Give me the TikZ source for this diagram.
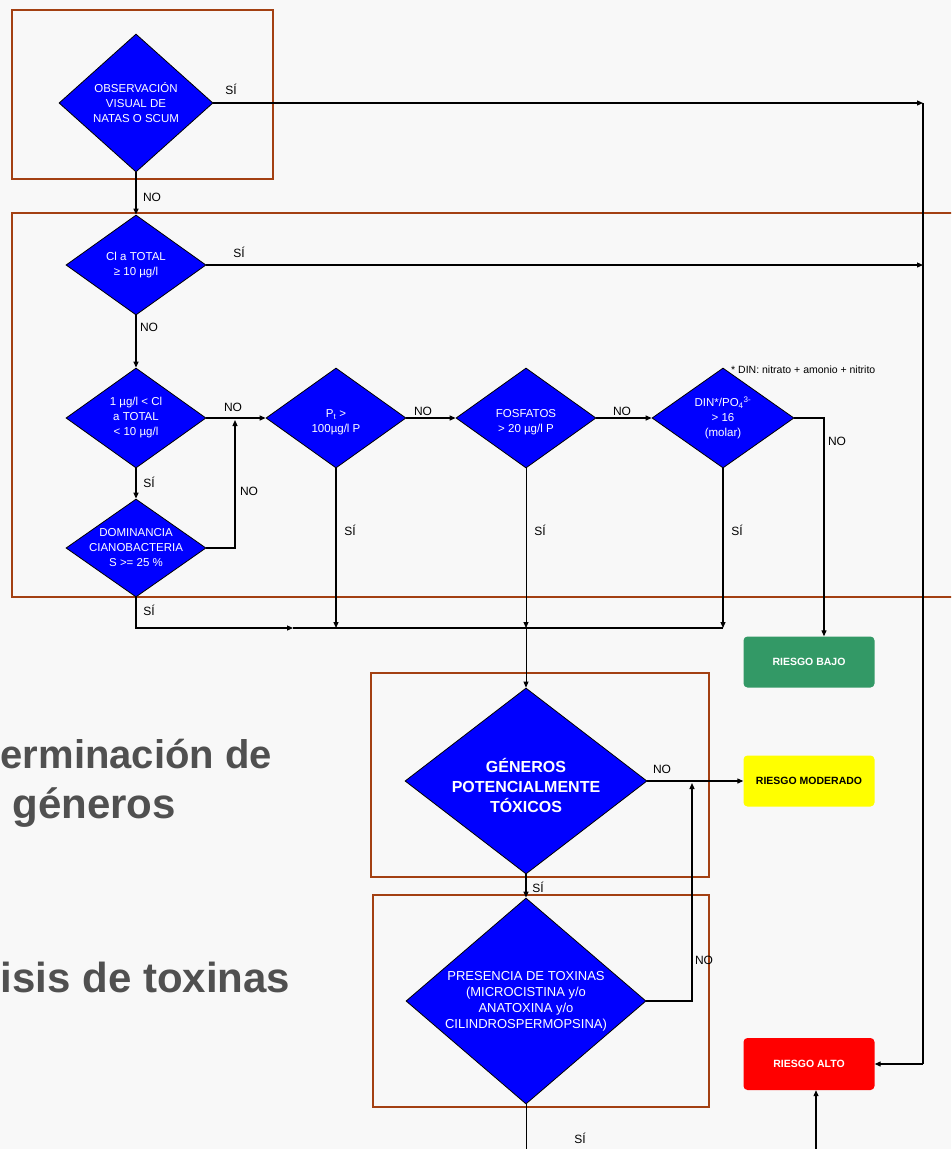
\documentclass[tikz,border=0pt]{standalone}
\usepackage{fontspec}
\setmainfont{Liberation Sans}
\usetikzlibrary{shapes.geometric,arrows.meta}
\definecolor{bg}{RGB}{248,248,248}
\definecolor{frame}{RGB}{163,64,18}
\definecolor{dblue}{RGB}{0,0,255}
\definecolor{rgreen}{RGB}{51,153,102}
\definecolor{ryellow}{RGB}{255,255,0}
\definecolor{rred}{RGB}{255,0,0}
\definecolor{gtext}{RGB}{80,80,80}
\begin{document}
\begin{tikzpicture}[x=1pt,y=-1pt,
  dia/.style={diamond, draw=black, line width=0.8pt, fill=dblue, inner sep=0pt},
  dtext/.style={text=white, align=center, font=\fontsize{11.5}{15}\selectfont, inner sep=0pt},
  lbl/.style={font=\fontsize{12}{14}\selectfont, inner sep=0pt},
  arr/.style={-{Triangle[length=6pt,width=5pt]}, line width=1.2pt},
  conn/.style={line width=1.2pt},
  thin/.style={line width=0.8pt},
  frm/.style={draw=frame, line width=2.5pt},
  risk/.style={rounded corners=4pt, minimum width=131pt, minimum height=51pt, inner sep=0pt, font=\fontsize{10.5}{12}\selectfont\bfseries},
  big/.style={text=gtext, font=\fontsize{42}{46}\selectfont\bfseries, inner sep=0pt}
]
\useasboundingbox (0,0) rectangle (951,1149);
\fill[bg] (0,0) rectangle (951,1149);
\clip (0,0) rectangle (951,1149);

% left texts
\node[big, font=\fontsize{40}{44}\selectfont\bfseries, anchor=base west] (t1) at (0.5,768) {erminación de};
\node[big, anchor=base east] (t2) at (176,818) {géneros};
\node[big, anchor=base west] (t3) at (0.5,992) {isis de toxinas};

% frames
\draw[frm] (12,10) rectangle (273,179);
\draw[frm] (12,213) rectangle (965,597);
\draw[frm] (371,673) rectangle (709,877);
\draw[frm] (373,895) rectangle (709,1107);

% diamonds
\node[dia, minimum width=154pt, minimum height=138pt] (d1) at (136,103) {};
\node[dtext] (d1t) at (d1) {OBSERVACIÓN\\VISUAL DE\\NATAS O SCUM};
\node[dia, minimum width=140pt, minimum height=100pt] (d2) at (136,265) {};
\node[dtext] (d2t) at (d2) {Cl a TOTAL\\≥ 10 µg/l};
\node[dia, minimum width=140pt, minimum height=100pt] (d3) at (136,418) {};
\node[dtext] (d3t) at (d3) {1 µg/l < Cl\\a TOTAL\\< 10 µg/l};
\node[dia, minimum width=140pt, minimum height=98pt] (d4) at (136,548) {};
\node[dtext] (d4t) at (d4) {DOMINANCIA\\CIANOBACTERIA\\S >= 25 \%};
\node[dia, minimum width=140pt, minimum height=100pt] (p) at (336,418) {};
\node[dtext] (pt) at ([yshift=-4pt]p.center) {P\textsubscript{t} >\\100µg/l P};
\node[dia, minimum width=140pt, minimum height=100pt] (f) at (526,418) {};
\node[dtext] (ft) at ([yshift=-4pt]f.center) {FOSFATOS\\> 20 µg/l P};
\node[dia, minimum width=142pt, minimum height=100pt] (din) at (723,418) {};
\node[dtext] (dint) at (din) {DIN*/PO\textsubscript{4}\textsuperscript{3-}\\> 16\\(molar)};
\node[dia, minimum width=242pt, minimum height=186pt] (g) at (526,781) {};
\node[dtext, font=\fontsize{16}{20}\selectfont\bfseries] (gt) at ([yshift=-4pt]g.center) {GÉNEROS\\POTENCIALMENTE\\TÓXICOS};
\node[dia, minimum width=240pt, minimum height=206pt] (pr) at (526,1001) {};
\node[dtext, font=\fontsize{13}{16}\selectfont] (prt) at (pr) {PRESENCIA DE TOXINAS\\(MICROCISTINA y/o\\ANATOXINA y/o\\CILINDROSPERMOPSINA)};

\node[anchor=west, inner sep=0pt, font=\fontsize{10.5}{12}\selectfont] (note) at (731,370) {* DIN: nitrato + amonio + nitrito};

% risk boxes
\node[risk, fill=rgreen, text=white] (bajo) at (809,662) {RIESGO BAJO};
\node[risk, fill=ryellow, text=black] (mod) at (809,781) {RIESGO MODERADO};
\node[risk, fill=rred, text=white, minimum height=52pt] (alto) at (809,1064) {RIESGO ALTO};

% coordinates
\coordinate (R1) at (923,103);
\coordinate (R2) at (923,265);
\coordinate (R3) at (923,1064);
\coordinate (J1) at (235,420);
\coordinate (C0) at (136,628);
\coordinate (C1) at (293,628);
\coordinate (C2) at (723,628);
\coordinate (K1) at (824,418);
\coordinate (L1) at (692,1001);
\coordinate (L2) at (692,783);
\coordinate (B1) at (816,1149);
\coordinate (B2) at (526,1149);

% connectors
\draw[arr] (d1.south) -- (d2.north);
\draw[arr] (d1.east) -- (R1);
\draw[arr] (d2.east) -- (R2);
\draw[conn] (R1) -- (R3);
\draw[arr] (R3) -- (alto.east);
\draw[arr] (d2.south) -- (d3.north);
\draw[arr] (d3.south) -- (d4.north);
\draw[arr] (d3.east) -- (p.west);
\draw[arr] (d4.east) -| (J1);
\draw[arr] (p.east) -- (f.west);
\draw[arr] (f.east) -- (din.west);
\draw[arr] (din.east) -- (K1) -- (K1 |- bajo.north);
\draw[arr] (d4.south) -- (C0) -- (C1);
\draw[conn] (C1) -- (C2);
\draw[arr] (p.south) -- (p.south |- C0);
\draw[arr, line width=0.8pt] (f.south) -- (f.south |- C0);
\draw[arr, line width=0.8pt] (f.south |- C0) -- (g.north);
\draw[arr] (din.south) -- (C2);
\draw[arr] (g.east) -- (mod.west);
\draw[arr] (g.south) -- (pr.north);
\draw[arr] (pr.east) -- (L1) -- (L2);
\draw[thin] (pr.south) -- (B2);
\draw[arr] (B1) -- (B1 |- alto.south);

% labels
\node[lbl] (s1) at (231,89) {SÍ};
\node[lbl] (n1) at (152,197) {NO};
\node[lbl] (s2) at (239,252) {SÍ};
\node[lbl] (n2) at (149,327) {NO};
\node[lbl] (n3) at (233,407) {NO};
\node[lbl] (s3) at (149,482) {SÍ};
\node[lbl] (n4) at (249,491) {NO};
\node[lbl] (s4) at (149,610) {SÍ};
\node[lbl] (s5) at (350,530) {SÍ};
\node[lbl] (n5) at (423,411) {NO};
\node[lbl] (n6) at (622,411) {NO};
\node[lbl] (s6) at (540,530) {SÍ};
\node[lbl] (s7) at (737,530) {SÍ};
\node[lbl] (n7) at (837,441) {NO};
\node[lbl] (n8) at (662,769) {NO};
\node[lbl] (s8) at (538,887) {SÍ};
\node[lbl] (n9) at (704,960) {NO};
\node[lbl] (s9) at (580,1138) {SÍ};
\end{tikzpicture}
\end{document}
